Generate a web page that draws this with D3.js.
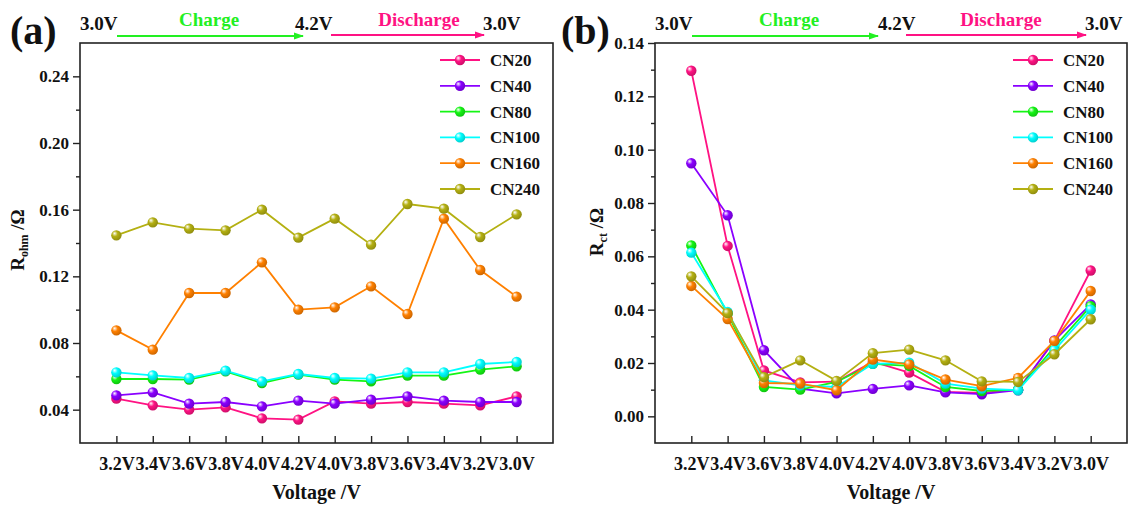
<!DOCTYPE html>
<html>
<head>
<meta charset="utf-8">
<script src="https://cdn.jsdelivr.net/npm/d3@7"></script>
<style>
  body { margin: 0; background: #fff; }
  text { font-family: "Liberation Serif", "Times New Roman", serif; font-weight: bold; }
</style>
</head>
<body>
<svg width="1128" height="509"></svg>
<script>
// x categories (charge 3.0 -> 4.2V, then discharge back to 3.0V)
const categories = ["3.2V","3.4V","3.6V","3.8V","4.0V","4.2V","4.0V","3.8V","3.6V","3.4V","3.2V","3.0V"]
const seriesNames = ["CN20","CN40","CN80","CN100","CN160","CN240"]
const seriesColors = ["#ff1283","#8a00ff","#14f514","#00ffff","#ff8000","#b4b012"]

// (a) Rohm values
const rohmCN20  = [0.0466,0.0426,0.0400,0.0414,0.0348,0.0340,0.0450,0.0436,0.0446,0.0436,0.0426,0.0480]
const rohmCN40  = [0.0486,0.0504,0.0436,0.0446,0.0420,0.0454,0.0436,0.0460,0.0480,0.0454,0.0446,0.0446]
const rohmCN80  = [0.0584,0.0584,0.0580,0.0630,0.0560,0.0610,0.0580,0.0570,0.0604,0.0604,0.0640,0.0660]
const rohmCN100 = [0.0624,0.0606,0.0590,0.0634,0.0570,0.0614,0.0590,0.0586,0.0624,0.0624,0.0674,0.0686]
const rohmCN160 = [0.0876,0.0760,0.1100,0.1100,0.1284,0.1000,0.1014,0.1140,0.0974,0.1546,0.1238,0.1078]
const rohmCN240 = [0.1446,0.1524,0.1486,0.1476,0.1600,0.1432,0.1546,0.1390,0.1634,0.1606,0.1436,0.1572]

// (b) Rct values
const rctCN20  = [0.1296,0.0639,0.0172,0.0127,0.0130,0.0205,0.0164,0.0092,0.0088,0.0100,0.0283,0.0547]
const rctCN40  = [0.0949,0.0754,0.0248,0.0104,0.0086,0.0103,0.0116,0.0090,0.0083,0.0098,0.0285,0.0420]
const rctCN80  = [0.0641,0.0385,0.0110,0.0100,0.0129,0.0197,0.0189,0.0110,0.0095,0.0100,0.0260,0.0413]
const rctCN100 = [0.0614,0.0391,0.0135,0.0116,0.0110,0.0197,0.0201,0.0123,0.0104,0.0098,0.0248,0.0400]
const rctCN160 = [0.0489,0.0365,0.0125,0.0123,0.0098,0.0213,0.0195,0.0138,0.0113,0.0144,0.0283,0.0470]
const rctCN240 = [0.0525,0.0387,0.0147,0.0210,0.0133,0.0237,0.0250,0.0210,0.0131,0.0129,0.0233,0.0364]

const rohmTicks = [0.04,0.08,0.12,0.16,0.20,0.24]
const rohmMinor = [0.06,0.10,0.14,0.18,0.22]
const rctTicks = [0.00,0.02,0.04,0.06,0.08,0.10,0.12,0.14]
const rctMinor = [0.01,0.03,0.05,0.07,0.09,0.11,0.13]

const svg = d3.select("svg")
const defs = svg.append("defs")

// ball-style marker gradients
seriesColors.forEach((c, i) => {
    const g = defs.append("radialGradient").attr("id", "ball" + i)
        .attr("cx", "40%").attr("cy", "40%").attr("r", "60%").attr("fx", "32%").attr("fy", "30%")
    g.append("stop").attr("offset", "0%").attr("stop-color", "#ffffff")
    g.append("stop").attr("offset", "45%").attr("stop-color", c)
    g.append("stop").attr("offset", "100%").attr("stop-color", d3.color(c).darker(0.6))
})

const arrowColors = {green: "#22f022", pink: "#ff1283"}
Object.entries(arrowColors).forEach(([k, c]) => {
    defs.append("marker").attr("id", "arrow-" + k)
        .attr("viewBox", "0 0 10 10").attr("refX", 9).attr("refY", 5)
        .attr("markerWidth", 10).attr("markerHeight", 10).attr("markerUnits", "userSpaceOnUse")
        .attr("orient", "auto")
        .append("path").attr("d", "M0,1.5 L10,5 L0,8.5 Z").attr("fill", c)
})

function drawPanel(p) {
    const g = svg.append("g")
    const x = d3.scaleLinear().domain([-1, 12]).range([p.left, p.right])
    const y = d3.scaleLinear().domain(p.yDomain).range([p.bottom, p.top])

    // minor y ticks
    g.append("g").attr("transform", `translate(${p.left},0)`)
        .call(d3.axisLeft(y).tickValues(p.minor).tickSize(4).tickFormat(""))
    // major y ticks
    const ya = g.append("g").attr("transform", `translate(${p.left},0)`)
        .call(d3.axisLeft(y).tickValues(p.ticks).tickSize(7).tickPadding(4).tickFormat(d3.format(".2f")))
    ya.selectAll("text").style("font-size", "17px").style("font-family", null)

    const xa = g.append("g").attr("transform", `translate(0,${p.bottom})`)
        .call(d3.axisBottom(x).tickValues(d3.range(12)).tickSize(-7).tickPadding(14).tickFormat(i => categories[i]))
    xa.selectAll("text").style("font-size", "18px").style("font-family", null)

    g.selectAll(".domain").remove()
    g.selectAll(".tick line").attr("stroke", "#222").attr("stroke-width", 1.4)
    g.selectAll(".tick text").attr("fill", "#111")

    g.append("rect").attr("x", p.left).attr("y", p.top)
        .attr("width", p.right - p.left).attr("height", p.bottom - p.top)
        .attr("fill", "none").attr("stroke", "#222").attr("stroke-width", 1.6)

    const line = d3.line().x((d, i) => x(i)).y(d => y(d))
    p.series.forEach((vals, si) => {
        g.append("path").datum(vals).attr("d", line)
            .attr("fill", "none").attr("stroke", seriesColors[si]).attr("stroke-width", 1.8)
        g.selectAll(null).data(vals).enter().append("circle")
            .attr("cx", (d, i) => x(i)).attr("cy", d => y(d)).attr("r", 5.2)
            .attr("fill", `url(#ball${si})`)
    })

    // legend
    seriesNames.forEach((n, i) => {
        const ly = 60 + i * 25.8
        const lx = p.legendX
        g.append("line").attr("x1", lx).attr("x2", lx + 40).attr("y1", ly).attr("y2", ly)
            .attr("stroke", seriesColors[i]).attr("stroke-width", 1.8)
        g.append("circle").attr("cx", lx + 20).attr("cy", ly).attr("r", 5.2).attr("fill", `url(#ball${i})`)
        g.append("text").attr("x", lx + 50).attr("y", ly + 6).style("font-size", "17px").attr("fill", "#111").text(n)
    })

    // axis titles
    g.append("text").attr("x", (p.left + p.right) / 2).attr("y", 499).attr("text-anchor", "middle")
        .style("font-size", "20px").attr("fill", "#111").text("Voltage /V")
    const yt = g.append("text").attr("transform", `translate(${p.ytitleX},${p.ytitleY}) rotate(-90)`)
        .attr("text-anchor", "middle").style("font-size", "19px").attr("fill", "#111")
    yt.append("tspan").text("R")
    yt.append("tspan").attr("dy", 4).style("font-size", "12px").text(p.sub)
    yt.append("tspan").attr("dy", -4).text(" /Ω")

    // panel letter and charge/discharge header
    g.append("text").attr("x", p.letterX).attr("y", 44).style("font-size", "40px").attr("fill", "#111").text(p.letter)
    const h = p.header
    g.append("text").attr("x", p.left).attr("y", 30).style("font-size", "19px").attr("fill", "#111").text("3.0V")
    g.append("text").attr("x", h.chargeX).attr("y", 26).attr("text-anchor", "middle")
        .style("font-size", "19px").attr("fill", "#22f022").text("Charge")
    g.append("line").attr("x1", h.g0).attr("x2", h.g1).attr("y1", 36).attr("y2", 36)
        .attr("stroke", "#22f022").attr("stroke-width", 1.8).attr("marker-end", "url(#arrow-green)")
    g.append("text").attr("x", h.v42).attr("y", 30).style("font-size", "19px").attr("fill", "#111").text("4.2V")
    g.append("text").attr("x", h.dischargeX).attr("y", 26).attr("text-anchor", "middle")
        .style("font-size", "19px").attr("fill", "#ff1283").text("Discharge")
    g.append("line").attr("x1", h.p0).attr("x2", h.p1).attr("y1", 35).attr("y2", 35)
        .attr("stroke", "#ff1283").attr("stroke-width", 1.8).attr("marker-end", "url(#arrow-pink)")
    g.append("text").attr("x", h.v30).attr("y", 30).style("font-size", "19px").attr("fill", "#111").text("3.0V")
}

drawPanel({
    left: 80, right: 553, top: 43, bottom: 443,
    yDomain: [0.02, 0.26], ticks: rohmTicks, minor: rohmMinor,
    series: [rohmCN20, rohmCN40, rohmCN80, rohmCN100, rohmCN160, rohmCN240],
    legendX: 440, sub: "ohm", ytitleX: 24, ytitleY: 240,
    letter: "(a)", letterX: 10,
    header: {chargeX: 209, g0: 117, g1: 303, v42: 295, dischargeX: 419, p0: 331, p1: 484, v30: 483}
})

drawPanel({
    left: 655, right: 1127, top: 43, bottom: 443,
    yDomain: [-0.01, 0.14], ticks: rctTicks, minor: rctMinor,
    series: [rctCN20, rctCN40, rctCN80, rctCN100, rctCN160, rctCN240],
    legendX: 1013, sub: "ct", ytitleX: 603, ytitleY: 232,
    letter: "(b)", letterX: 561,
    header: {chargeX: 789, g0: 692, g1: 878, v42: 878, dischargeX: 1001, p0: 906, p1: 1086, v30: 1085}
})
</script>
</body>
</html>
